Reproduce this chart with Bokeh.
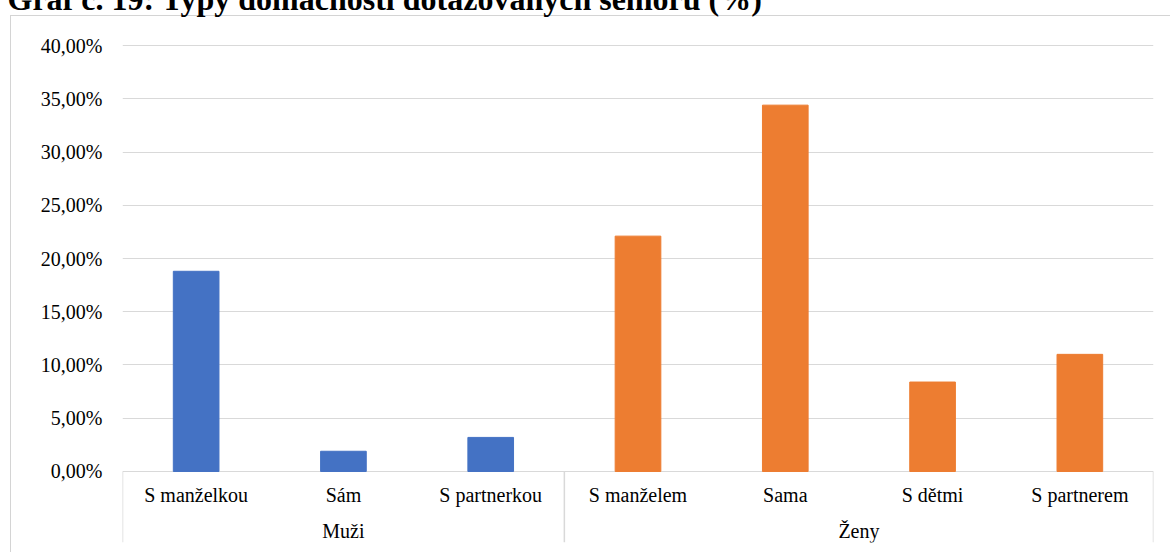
from bokeh.plotting import figure
from bokeh.models import FactorRange, FixedTicker, Label, ColumnDataSource
from bokeh.core.properties import value
from bokeh.embed import file_html
from bokeh.resources import INLINE

# Household types of surveyed seniors, share of respondents (%)
groups = ["Muži", "Muži", "Muži", "Ženy", "Ženy", "Ženy", "Ženy"]
categories = ["S manželkou", "Sám", "S partnerkou", "S manželem", "Sama", "S dětmi", "S partnerem"]
shares = [18.8, 1.9, 3.2, 22.1, 34.4, 8.4, 11.0]
group_colors = {"Muži": "#4472C4", "Ženy": "#ED7D31"}
group_names = ["Muži", "Ženy"]

tick_values = [0, 5, 10, 15, 20, 25, 30, 35, 40]
tick_labels = ["0,00%", "5,00%", "10,00%", "15,00%", "20,00%", "25,00%", "30,00%", "35,00%", "40,00%"]

title_text = "Graf č. 19: Typy domácností dotazovaných seniorů (%)"

FONT = "Liberation Serif"
CSS_FONT = "'Liberation Serif', 'Times New Roman', serif"
GRID = "#D9D9D9"
BORDER = "#D4D4D4"

factors = list(zip(groups, categories))
x_range = FactorRange(*factors, group_padding=0, factor_padding=0, range_padding=0)

# y range reaches below zero to leave room for the two-level category axis
y_bottom = -6.667
y_top = 40.47

p = figure(
    width=1170, height=552,
    x_range=x_range, y_range=(y_bottom, y_top),
    output_backend="svg", toolbar_location=None,
    min_border_left=122, min_border_right=17, min_border_top=40, min_border_bottom=10,
)
p.outline_line_color = None
# transparent canvas so the chart-area border painted behind it shows through
p.background_fill_color = None
p.border_fill_color = None
p.styles = {
    "font-family": CSS_FONT,
    "background": (
        f"linear-gradient({BORDER}, {BORDER}) 10px 15px / 1160px 1px no-repeat, "
        f"linear-gradient({BORDER}, {BORDER}) 10px 15px / 1px 537px no-repeat, "
        "white"
    ),
}
p.stylesheets = [f"text {{ font-family: {CSS_FONT} !important; }}"]

src = ColumnDataSource(dict(
    x=factors, top=shares,
    color=[group_colors[g] for g in groups],
))
p.vbar(x="x", top="top", width=0.31, color="color", source=src)

# y axis
p.yaxis.ticker = FixedTicker(ticks=tick_values)
p.yaxis.major_label_overrides = {v: s for v, s in zip(tick_values, tick_labels)}
p.yaxis.axis_line_color = None
p.yaxis.major_tick_line_color = None
p.yaxis.minor_tick_line_color = None
p.yaxis.major_label_text_font = FONT
p.yaxis.major_label_text_font_size = "20px"
p.yaxis.major_label_text_color = "#000000"
p.yaxis.major_label_standoff = 14

p.ygrid.ticker = FixedTicker(ticks=tick_values)
p.ygrid.grid_line_color = GRID
p.ygrid.grid_line_width = 1.2
p.xgrid.grid_line_color = None

p.xaxis.visible = False

# category labels (inner level) and group labels (outer level)
p.text(x=factors, y=[-2.16] * len(factors), text=categories,
       text_font=value(FONT), text_font_size="20px", text_color="#000000",
       text_align="center", text_baseline="middle")
p.text(x=group_names, y=[-5.63] * len(group_names), text=group_names,
       text_font=value(FONT), text_font_size="20px", text_color="#000000",
       text_align="center", text_baseline="middle")

# separators of the category axis
n = len(factors)
n_men = groups.count("Muži")
p.segment(x0=[0, n_men, n], y0=[0, 0, 0], x1=[0, n_men, n], y1=[y_bottom] * 3,
          line_color=GRID, line_width=1.5)

# title, placed in the top panel so it is not clipped to the plot frame
p.add_layout(Label(x=-115, y=41.5, x_units="screen", y_units="screen",
                   text=title_text, text_font=FONT, text_font_size="32px",
                   text_font_style="bold", text_color="#000000",
                   text_baseline="alphabetic"), "above")

open("out.html", "w").write(file_html(p, INLINE))
